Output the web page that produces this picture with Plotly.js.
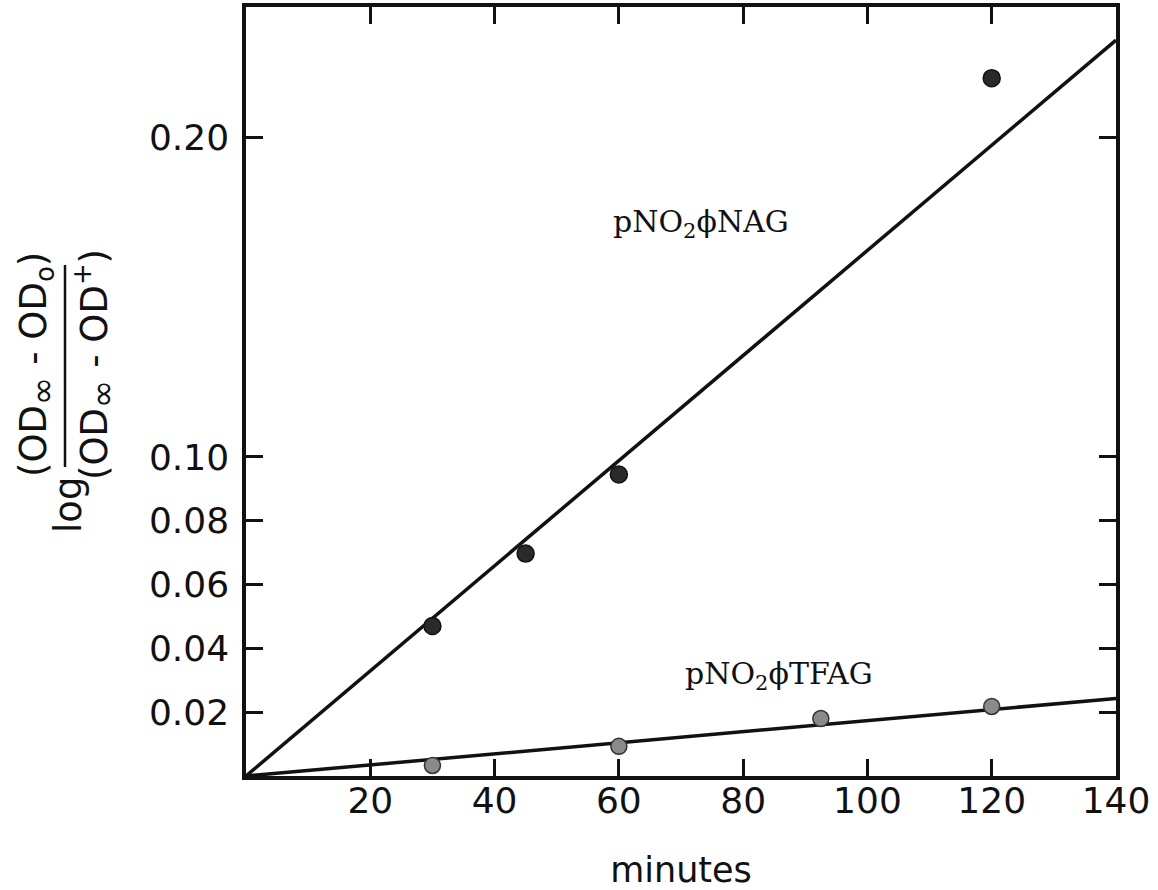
<!DOCTYPE html>
<html><head><meta charset="utf-8">
<script src="https://cdn.plot.ly/plotly-3.0.1.min.js"></script>
<style>html,body{margin:0;padding:0;background:#fff}#chart{width:1158px;height:890px}</style>
</head><body><div id="chart"></div>
<script>
// Data
const nagMinutes = [30, 45, 60, 120];
const nagValues  = [0.047, 0.0697, 0.0945, 0.2187];
const tfagMinutes = [30, 60, 92.5, 120];
const tfagValues  = [0.0033, 0.0093, 0.018, 0.0218];
const fitMinutes = [0, 140];
const nagFit  = [0, 0.2306];
const tfagFit = [0, 0.0243];
const xTickVals = [20, 40, 60, 80, 100, 120, 140];
const yTickVals = [0.02, 0.04, 0.06, 0.08, 0.10, 0.20];
const yTickText = ['0.02', '0.04', '0.06', '0.08', '0.10', '0.20'];

const L = 246, R = 42, T = 7, B = 114, W = 1158, H = 890;
const pw = W - L - R, ph = H - T - B;
const px = v => (v - L) / pw;
const py = v => (H - B - v) / ph;

const sans = 'DejaVu Sans, sans-serif';
const serif = 'DejaVu Serif, serif';
const inf = '<sub><span style="font-size:34px">∞</span></sub>';

const traces = [
  {x: fitMinutes, y: nagFit, mode: 'lines', line: {color: '#111', width: 3.5}, hoverinfo: 'skip'},
  {x: fitMinutes, y: tfagFit, mode: 'lines', line: {color: '#111', width: 3.5}, hoverinfo: 'skip'},
  {x: nagMinutes, y: nagValues, mode: 'markers', marker: {size: 17, color: '#2a2a2a', line: {color: '#111', width: 1.5}}},
  {x: tfagMinutes, y: tfagValues, mode: 'markers', marker: {size: 16, color: '#8a8a8a', line: {color: '#333', width: 1.5}}}
];

const layout = {
  width: W, height: H,
  margin: {l: L, r: R, t: T, b: B},
  paper_bgcolor: '#fff', plot_bgcolor: '#fff',
  showlegend: false,
  xaxis: {
    range: [0, 140], tickvals: xTickVals, ticks: 'inside', ticklen: 17, tickwidth: 2.5, tickcolor: '#111',
    showline: true, linewidth: 3.5, linecolor: '#111', mirror: 'ticks', showgrid: false, zeroline: false,
    tickfont: {family: sans, size: 36, color: '#111'}, ticklabelstandoff: -10,
    title: {text: 'minutes', font: {family: sans, size: 35, color: '#111'}, standoff: 40}
  },
  yaxis: {
    range: [0, 0.241], tickvals: yTickVals, ticktext: yTickText, ticks: 'inside', ticklen: 17, tickwidth: 2.5, tickcolor: '#111',
    showline: true, linewidth: 3.5, linecolor: '#111', mirror: 'ticks', showgrid: false, zeroline: false,
    tickfont: {family: sans, size: 36, color: '#111'}, ticklabelstandoff: 6
  },
  shapes: [
    {type: 'line', xref: 'paper', yref: 'paper', x0: px(65), x1: px(65), y0: py(265), y1: py(467), line: {color: '#111', width: 2.5}}
  ],
  annotations: [
    {xref: 'paper', yref: 'paper', x: px(37), y: py(365), text: '(OD' + inf + ' - OD<sub>o</sub>)', textangle: -90, showarrow: false, xanchor: 'center', yanchor: 'middle', font: {family: sans, size: 37, color: '#111'}},
    {xref: 'paper', yref: 'paper', x: px(94), y: py(365), text: '(OD' + inf + ' - OD<sup>+</sup>)', textangle: -90, showarrow: false, xanchor: 'center', yanchor: 'middle', font: {family: sans, size: 37, color: '#111'}},
    {xref: 'paper', yref: 'paper', x: px(68), y: py(505), text: 'log', textangle: -90, showarrow: false, xanchor: 'center', yanchor: 'middle', font: {family: sans, size: 37, color: '#111'}},
    {xref: 'paper', yref: 'paper', x: px(701), y: py(224), text: 'pNO<sub>2</sub>ϕNAG', showarrow: false, xanchor: 'center', yanchor: 'middle', font: {family: serif, size: 30, color: '#111'}},
    {xref: 'paper', yref: 'paper', x: px(779), y: py(675), text: 'pNO<sub>2</sub>ϕTFAG', showarrow: false, xanchor: 'center', yanchor: 'middle', font: {family: serif, size: 30, color: '#111'}}
  ]
};

Plotly.newPlot('chart', traces, layout, {displayModeBar: false});
</script>
</body></html>
